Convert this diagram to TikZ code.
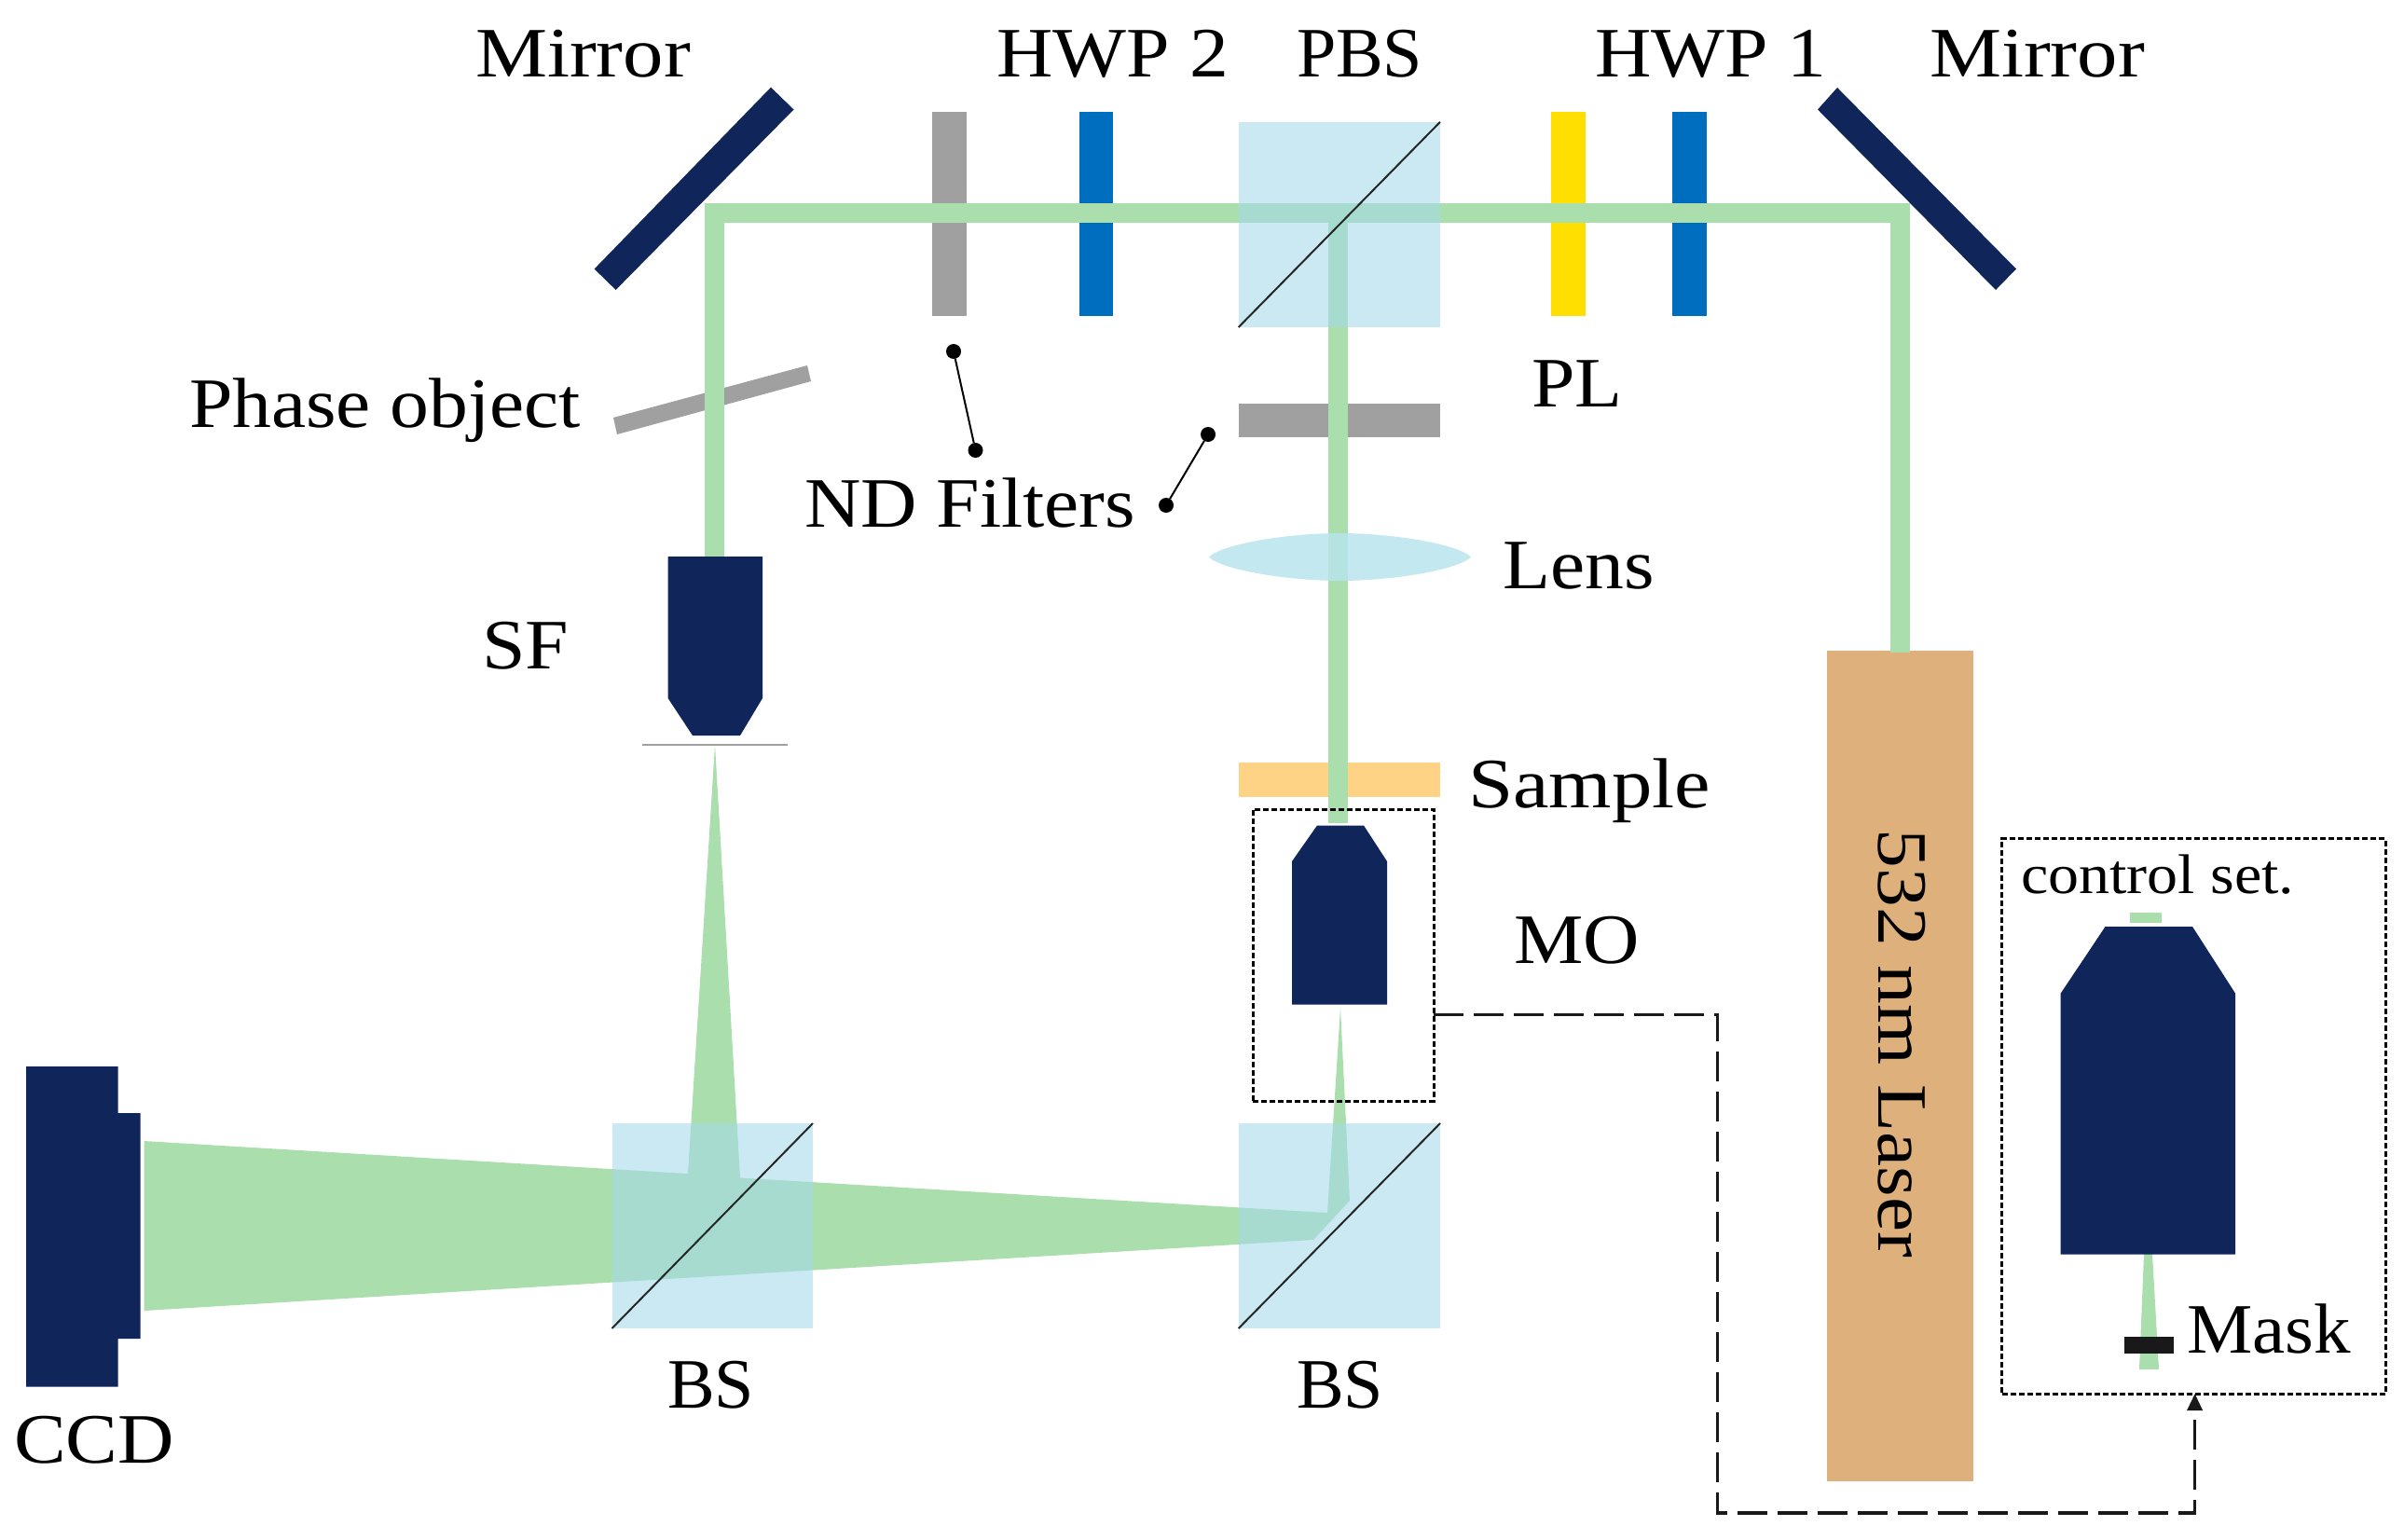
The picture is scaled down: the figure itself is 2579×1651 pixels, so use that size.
\documentclass[tikz,border=0pt]{standalone}
\usepackage{fontspec}
\setmainfont{Liberation Serif}[FakeStretch=1.1]
\newfontfamily\fnar{Liberation Serif}[FakeStretch=1.0]
\newfontfamily\fmid{Liberation Serif}[FakeStretch=1.04]
\newfontfamily\fwid{Liberation Serif}[FakeStretch=1.14]
\usetikzlibrary{arrows.meta}
\definecolor{navy}{RGB}{16,38,90}
\definecolor{beamg}{RGB}{170,222,172}
\definecolor{cubeb}{RGB}{167,218,233}
\definecolor{lensb}{RGB}{184,228,236}
\definecolor{ndgray}{RGB}{160,160,160}
\definecolor{hwpb}{RGB}{0,110,190}
\definecolor{ply}{RGB}{255,223,0}
\definecolor{laserc}{RGB}{222,176,124}
\definecolor{samplec}{RGB}{255,211,134}
\newcommand\bx[6]{%
  \pgfmathsetmacro\cxx{(#2+#4)/2}%
  \pgfmathsetmacro\cyy{(#3+#5)/2}%
  \node[#1,minimum width={(#4-#2)*1pt},minimum height={(#5-#3)*1pt},inner sep=0pt,outer sep=0pt] (#6) at (\cxx,\cyy) {};}
\tikzset{
  lab/.style={anchor=base west,inner sep=0pt,outer sep=0pt,font=\fontsize{76}{80}\selectfont,text=black},
  labn/.style={lab,font=\fnar\fontsize{76}{80}\selectfont},
  labm/.style={lab,font=\fmid\fontsize{76}{80}\selectfont},
  labw/.style={lab,font=\fwid\fontsize{76}{80}\selectfont},
  labs/.style={lab,font=\fontsize{60}{64}\selectfont},
  solid fill/.style={fill=#1,draw=none},
  cube/.style={fill=cubeb,fill opacity=0.59,draw=none},
  beam/.style={draw=beamg,line width=21pt,line join=miter},
  diag/.style={draw=black!85,line width=2pt},
  dot/.style={circle,fill=black,inner sep=0pt,outer sep=0pt,minimum size=16pt},
  leader/.style={draw=black,line width=2pt},
  dbox/.style={draw=black,line width=3pt,dash pattern=on 6pt off 3pt},
  link/.style={draw=black!90,line width=3.5pt,dash pattern=on 32pt off 11pt},
}
\begin{document}
\begin{tikzpicture}[x=1pt,y=-1pt]
\useasboundingbox (0,0) rectangle (2579,1651);
% vertical plates
\bx{solid fill=ndgray}{1000}{120}{1037}{339}{ndA}
\bx{solid fill=hwpb}{1158}{120}{1194}{339}{hwpB}
\bx{solid fill=ply}{1664}{120}{1700.5}{339}{pl}
\bx{solid fill=hwpb}{1793.5}{120}{1830.5}{339}{hwpA}
\bx{solid fill=ndgray}{1329}{432.5}{1545}{468.5}{ndB}
\bx{solid fill=samplec}{1329}{818}{1545}{854.6}{sample}
% mirrors and phase object
\fill[navy] (827,93.7) -- (851.5,117.5) -- (660.6,311) -- (637.6,288.5) -- cycle;
\fill[navy] (1971,94) -- (1950,117.5) -- (2141,311) -- (2163,288.5) -- cycle;
\fill[ndgray] (866,392) -- (870,409) -- (662,466) -- (658,448) -- cycle;
% laser and named beam points
\bx{solid fill=laserc}{1960}{698}{2117}{1589}{laser}
\coordinate (mR) at (2038.5,228.5);
\coordinate (mL) at (766.5,228.5);
\coordinate (pbsC) at (1435,228.5);
\coordinate (sfIn) at (766.5,600);
\coordinate (moIn) at (1435,883);
\coordinate (laserOut) at (2038.5,700);
% collimated beams
\draw[beam] (laserOut) -- (mR) -- (mL) -- (sfIn);
\draw[beam] (pbsC) -- (moIn);
% diverging beam
\fill[beamg] (154.7,1224) -- (738,1259) -- (767,799) -- (794,1263.5) -- (1424,1301) -- (1438,1081)
  -- (1448,1288) -- (1409,1330) -- (154.7,1406) -- cycle;
% cubes
\bx{cube}{1328.7}{130.8}{1545}{351}{pbs}
\bx{cube}{656.5}{1205}{872}{1425}{bsL}
\bx{cube}{1328.7}{1205}{1545}{1425}{bsR}
\draw[diag] (pbs.south west) -- (pbs.north east);
\draw[diag] (bsL.south west) -- (bsL.north east);
\draw[diag] (bsR.south west) -- (bsR.north east);
% lens
\fill[lensb,fill opacity=0.85] (1297,597.5) .. controls (1310,584) and (1380,572) .. (1437.5,572)
  .. controls (1495,572) and (1565,584) .. (1578,597.5)
  .. controls (1565,611) and (1495,623) .. (1437.5,623)
  .. controls (1380,623) and (1310,611) .. (1297,597.5) -- cycle;
% SF
\fill[navy] (716.6,597) -- (818,597) -- (818,749) -- (794,789) -- (743,789) -- (716.6,749) -- cycle;
\draw[draw=ndgray,line width=2.5pt] (689,799) -- (845,799);
% MO
\fill[navy] (1413,885.5) -- (1463,885.5) -- (1488,924) -- (1488,1077.6) -- (1386,1077.6) -- (1386,924) -- cycle;
\bx{dbox}{1344}{868}{1538}{1181}{moBox}
% control set
\bx{dbox}{2147.5}{899.6}{2559}{1495}{ctrlBox}
\fill[beamg] (2285,979) rectangle (2319,990);
\fill[beamg] (2300,1345) -- (2309,1345) -- (2316,1469) -- (2295,1469) -- cycle;
\fill[navy] (2258.5,994) -- (2352,994) -- (2398,1065.6) -- (2398,1345.7) -- (2210.7,1345.7) -- (2210.7,1065.6) -- cycle;
\bx{solid fill=black!90}{2279}{1434}{2332}{1451.5}{mask}
% CCD
\fill[navy] (28,1144) -- (126.7,1144) -- (126.7,1194) -- (150.6,1194) -- (150.6,1436) -- (126.7,1436) -- (126.7,1487.6) -- (28,1487.6) -- cycle;
% ND leaders
\node[dot] (d1) at (1023,377) {};
\node[dot] (d2) at (1046.5,483) {};
\node[dot] (d3) at (1296,466) {};
\node[dot] (d4) at (1251,542) {};
\draw[leader] (d1) -- (d2);
\draw[leader] (d3) -- (d4);
% dashed link
\coordinate (b1) at (1842.5,1088.6);
\coordinate (b2) at (1842.5,1623);
\coordinate (b3) at (2354.6,1623);
\draw[link,-{Stealth[length=18pt,width=16pt,inset=0pt]}] (moBox.east |- b1) -- (b1) -- (b2) -- (b3) -- (ctrlBox.south -| b3);
% labels
\node[labw] (tMirrorL) at (510,83) {Mirror};
\node[lab] (tHwp2) at (1069.5,83) {HWP 2};
\node[labn] (tPbs) at (1391,83) {PBS};
\node[lab] (tHwp1) at (1711,83) {HWP 1};
\node[labw] (tMirrorR) at (2070,83) {Mirror};
\node[lab] (tPhase) at (203,458) {Phase object};
\node[lab] (tPl) at (1643,436) {PL};
\node[lab] (tNd) at (863,565) {ND Filters};
\node[lab] (tLens) at (1612,631) {Lens};
\node[lab] (tSf) at (517,717) {SF};
\node[labw] (tSample) at (1575,866) {Sample};
\node[lab] (tMo) at (1624.6,1033) {MO};
\node[labn] (tBsL) at (716,1510.6) {BS};
\node[labn] (tBsR) at (1391,1510.6) {BS};
\node[lab] (tCcd) at (15,1569) {CCD};
\node[labm] (tMask) at (2346,1451) {Mask};
\node[labs] (tCtrl) at (2168,958) {control set.};
\node[lab,anchor=base,rotate=-90] (tLaser) at (2015,1119.5) {532 nm Laser};
\end{tikzpicture}
\end{document}
